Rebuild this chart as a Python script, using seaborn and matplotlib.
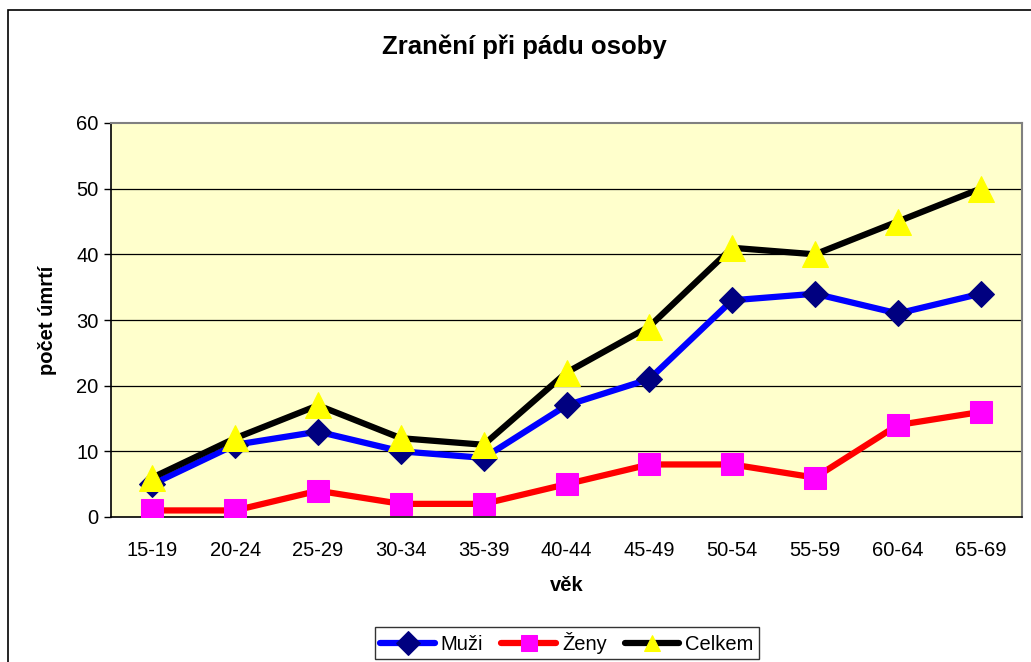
import matplotlib
matplotlib.use("Agg")
import matplotlib.pyplot as plt
import matplotlib.patches as mpatches
import seaborn as sns
import pandas as pd

categories = ["15-19", "20-24", "25-29", "30-34", "35-39", "40-44",
              "45-49", "50-54", "55-59", "60-64", "65-69"]
muzi = [5, 11, 13, 10, 9, 17, 21, 33, 34, 31, 34]
zeny = [1, 1, 4, 2, 2, 5, 8, 8, 6, 14, 16]
celkem = [6, 12, 17, 12, 11, 22, 29, 41, 40, 45, 50]
y_ticks = [0, 10, 20, 30, 40, 50, 60]

sns.set_theme(style="white", rc={"text.color": "black", "axes.labelcolor": "black",
                                 "xtick.color": "black", "ytick.color": "black"})
plt.rcParams['font.family'] = ['Liberation Sans', 'DejaVu Sans']

fig = plt.figure(figsize=(10.31, 6.62), dpi=100)
ax = fig.add_axes([111/1031, 1-517/662, (1022-111)/1031, (517-123)/662])
ax.set_facecolor("#FFFFCC")

x = list(range(len(categories)))
series = [
    ("Muži", muzi, "#0000FF", "D", "#000080", 13.5),
    ("Ženy", zeny, "#FF0000", "s", "#FF00FF", 16.5),
    ("Celkem", celkem, "#000000", "^", "#FFFF00", 19),
]
for name, vals, lc, mk, mc, ms in series:
    df = pd.DataFrame({"x": x, "y": vals})
    sns.lineplot(data=df, x="x", y="y", ax=ax, color=lc, linewidth=4.5,
                 marker=mk, markersize=ms, markerfacecolor=mc,
                 markeredgecolor=mc, label=name, legend=False, zorder=3)

ax.set_xlim(-0.5, len(categories) - 0.5)
ax.set_ylim(0, 60)
ax.set_yticks(y_ticks)
ax.set_yticklabels([str(t) for t in y_ticks], fontsize=14.5)
ax.set_xticks(x)
ax.set_xticklabels(categories, fontsize=14.5)
ax.set_xticks([i - 0.5 for i in range(len(categories) + 1)], minor=True)
ax.tick_params(axis="x", which="major", length=0, pad=17)
ax.tick_params(axis="x", which="minor", length=5, width=1, color="black", direction="out")
ax.tick_params(axis="y", which="major", length=5, width=1, color="black", direction="out", left=True, pad=4)
for t in y_ticks[1:-1]:
    ax.axhline(t, color="black", linewidth=0.9, zorder=1)

for s in ["left", "bottom"]:
    ax.spines[s].set_color("black")
    ax.spines[s].set_linewidth(1.2)
for s in ["top", "right"]:
    ax.spines[s].set_color("#808080")
    ax.spines[s].set_linewidth(1.5)

ax.set_xlabel("věk", fontsize=14.5, fontweight="bold", labelpad=12)
ax.set_ylabel("počet úmrtí", fontsize=14.5, fontweight="bold", labelpad=14)

fig.text(524/1031, 1-47/662, "Zranění při pádu osoby", ha="center", va="center",
         fontsize=18.5, fontweight="bold")

handles, labels = ax.get_legend_handles_labels()
leg = fig.legend(handles, labels, loc="center", bbox_to_anchor=(567/1031, 1-643/662),
                 ncol=3, frameon=True, fontsize=14.5, fancybox=False,
                 edgecolor="black", handlelength=2.7, columnspacing=0.9,
                 handletextpad=0.3, borderpad=0.25, borderaxespad=0)
leg.get_frame().set_linewidth(1.0)
for h in leg.legend_handles:
    h.set_markersize(12)

frame = mpatches.Rectangle((8/1031, -0.01), 1.02 - 8/1031, 1 - 10/662 + 0.01,
                           transform=fig.transFigure, fill=False,
                           edgecolor="black", linewidth=1.2)
fig.patches.append(frame)

fig.savefig("out.png", dpi=100)
